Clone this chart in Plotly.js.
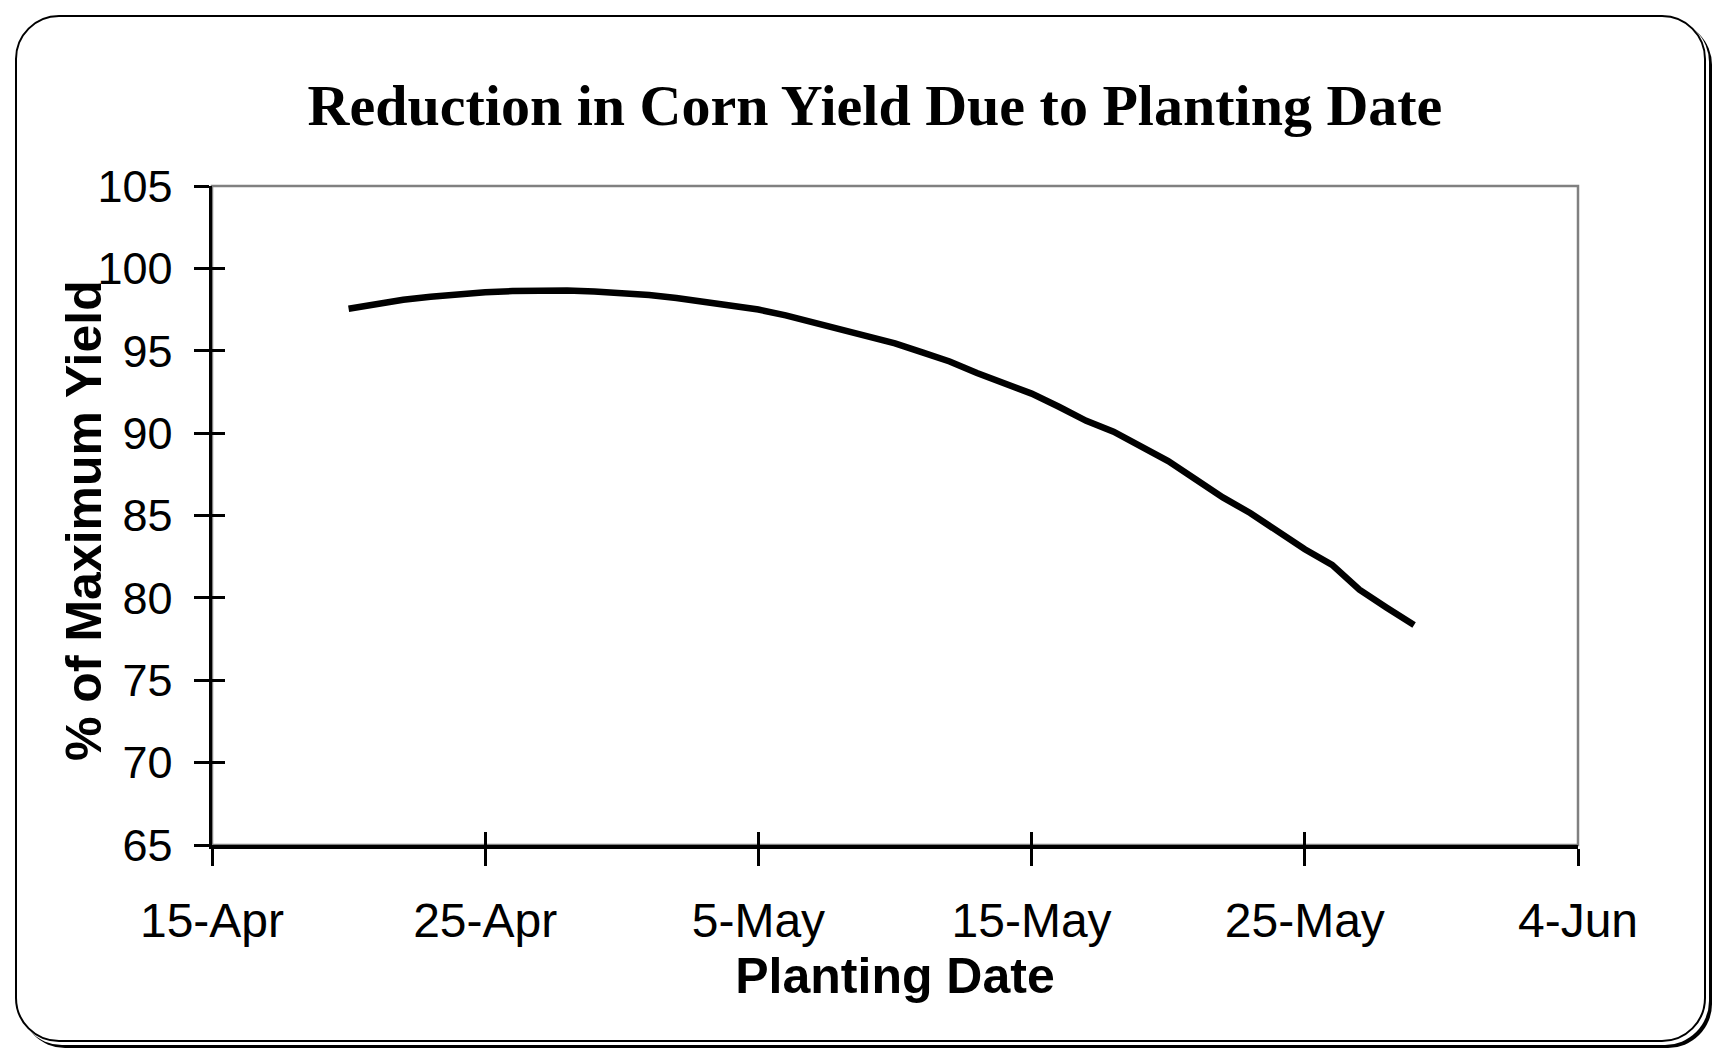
<!DOCTYPE html>
<html>
<head>
<meta charset="utf-8">
<script src="https://cdn.plot.ly/plotly-3.0.1.min.js"></script>
<style>
  html, body { margin: 0; padding: 0; background: #ffffff; overflow: hidden; }
  #wrap { position: relative; width: 1717px; height: 1054px; }
  #frame {
    position: absolute; left: 15px; top: 15px; width: 1687px; height: 1023px;
    border: 2.5px solid #000; border-radius: 44px; background: #fff;
    box-shadow: 3px 3px 0 0 #fff, 6px 6px 0 0 #000;
  }
  #chart { position: absolute; left: 0; top: 0; width: 1717px; height: 1054px; }
</style>
</head>
<body>
<div id="wrap">
  <div id="frame"></div>
  <div id="chart"></div>
</div>
<script>
// Planting dates (daily, 20-Apr to 29-May)
const plantingDates = [
  "2009-04-20","2009-04-21","2009-04-22","2009-04-23","2009-04-24",
  "2009-04-25","2009-04-26","2009-04-27","2009-04-28","2009-04-29",
  "2009-04-30","2009-05-01","2009-05-02","2009-05-03","2009-05-04",
  "2009-05-05","2009-05-06","2009-05-07","2009-05-08","2009-05-09",
  "2009-05-10","2009-05-11","2009-05-12","2009-05-13","2009-05-14",
  "2009-05-15","2009-05-16","2009-05-17","2009-05-18","2009-05-19",
  "2009-05-20","2009-05-21","2009-05-22","2009-05-23","2009-05-24",
  "2009-05-25","2009-05-26","2009-05-27","2009-05-28","2009-05-29"
];
// % of maximum yield
const yieldPct = [
  97.55, 97.85, 98.10, 98.28, 98.44,
  98.55, 98.62, 98.65, 98.65, 98.60,
  98.50, 98.38, 98.20, 98.00, 97.78,
  97.50, 97.15, 96.75, 96.30, 95.95,
  95.45, 94.90, 94.35, 93.65, 92.98,
  92.40, 91.60, 90.75, 90.09, 89.15,
  88.30, 87.20, 86.10, 85.15, 84.00,
  82.95, 82.00, 80.50, 79.40, 78.35
];
// Axis ticks
const xTickVals = ["2009-04-15","2009-04-25","2009-05-05","2009-05-15","2009-05-25","2009-06-04"];
const xTickText = ["15-Apr","25-Apr","5-May","15-May","25-May","4-Jun"];
const xRange = ["2009-04-15","2009-06-04"];
const yRange = [65, 105];
const yTickVals = [65, 70, 75, 80, 85, 90, 95, 100, 105];
const yTitle = "% of Maximum Yield";
const xTitle = "Planting Date";

const xTickFont = {family: "Liberation Sans, Arial, sans-serif", size: 48, color: "#000"};
const yTickFont = {family: "Liberation Sans, Arial, sans-serif", size: 45, color: "#000"};
const axTitleFont = {family: "Liberation Sans, Arial, sans-serif", size: 50, color: "#000", weight: "bold"};

const traces = [
  {
    x: plantingDates, y: yieldPct, type: "scatter", mode: "lines",
    line: {color: "#000", width: 6.5}, showlegend: false, hoverinfo: "x+y"
  },
  {
    x: plantingDates, y: yieldPct, type: "scatter", mode: "lines",
    xaxis: "x2", yaxis: "y2",
    line: {color: "rgba(0,0,0,0)", width: 0}, showlegend: false, hoverinfo: "skip"
  }
];

const layout = {
  width: 1717, height: 1054,
  margin: {l: 212, r: 139, t: 186, b: 209},
  paper_bgcolor: "rgba(0,0,0,0)",
  plot_bgcolor: "rgba(0,0,0,0)",
  showlegend: false,
  title: {
    text: "Reduction in Corn Yield Due to Planting Date",
    font: {family: "Liberation Serif, Times New Roman, serif", size: 58, color: "#000", weight: "bold"},
    x: 0.5096, xref: "container", xanchor: "center",
    y: 0.901, yref: "container", yanchor: "middle"
  },
  xaxis: {
    type: "date", range: xRange,
    tickmode: "array", tickvals: xTickVals, ticktext: xTickText,
    ticks: "outside", ticklen: 17, tickwidth: 3, tickcolor: "#000",
    ticklabelstandoff: 14,
    tickfont: xTickFont,
    showline: true, linecolor: "#000", linewidth: 3.5,
    showgrid: false, zeroline: false,
    title: {text: xTitle, font: axTitleFont, standoff: 13}
  },
  yaxis: {
    range: yRange,
    tickmode: "array", tickvals: yTickVals,
    ticks: "outside", ticklen: 15, tickwidth: 3, tickcolor: "#000",
    ticklabelstandoff: 12,
    tickfont: yTickFont,
    showline: true, linecolor: "#000", linewidth: 3.5,
    showgrid: false, zeroline: false
  },
  xaxis2: {
    type: "date", range: xRange, overlaying: "x",
    tickmode: "array", tickvals: xTickVals,
    ticks: "inside", ticklen: 13, tickwidth: 3, tickcolor: "#000",
    showticklabels: false, showline: false, showgrid: false, zeroline: false
  },
  yaxis2: {
    range: yRange, overlaying: "y",
    tickmode: "array", tickvals: yTickVals,
    ticks: "inside", ticklen: 13, tickwidth: 3, tickcolor: "#000",
    showticklabels: false, showline: false, showgrid: false, zeroline: false
  },
  annotations: [
    {text: yTitle, font: axTitleFont, textangle: -90, showarrow: false,
     xref: "paper", yref: "paper", x: -0.0937, y: 0.4917,
     xanchor: "center", yanchor: "middle"}
  ],
  shapes: [
    {type: "rect", xref: "paper", yref: "paper", x0: 0, x1: 1, y0: 0, y1: 1,
     line: {color: "#808080", width: 2.5}, fillcolor: "rgba(0,0,0,0)", layer: "below"}
  ]
};

Plotly.newPlot("chart", traces, layout, {displayModeBar: false, staticPlot: true});
</script>
</body>
</html>
